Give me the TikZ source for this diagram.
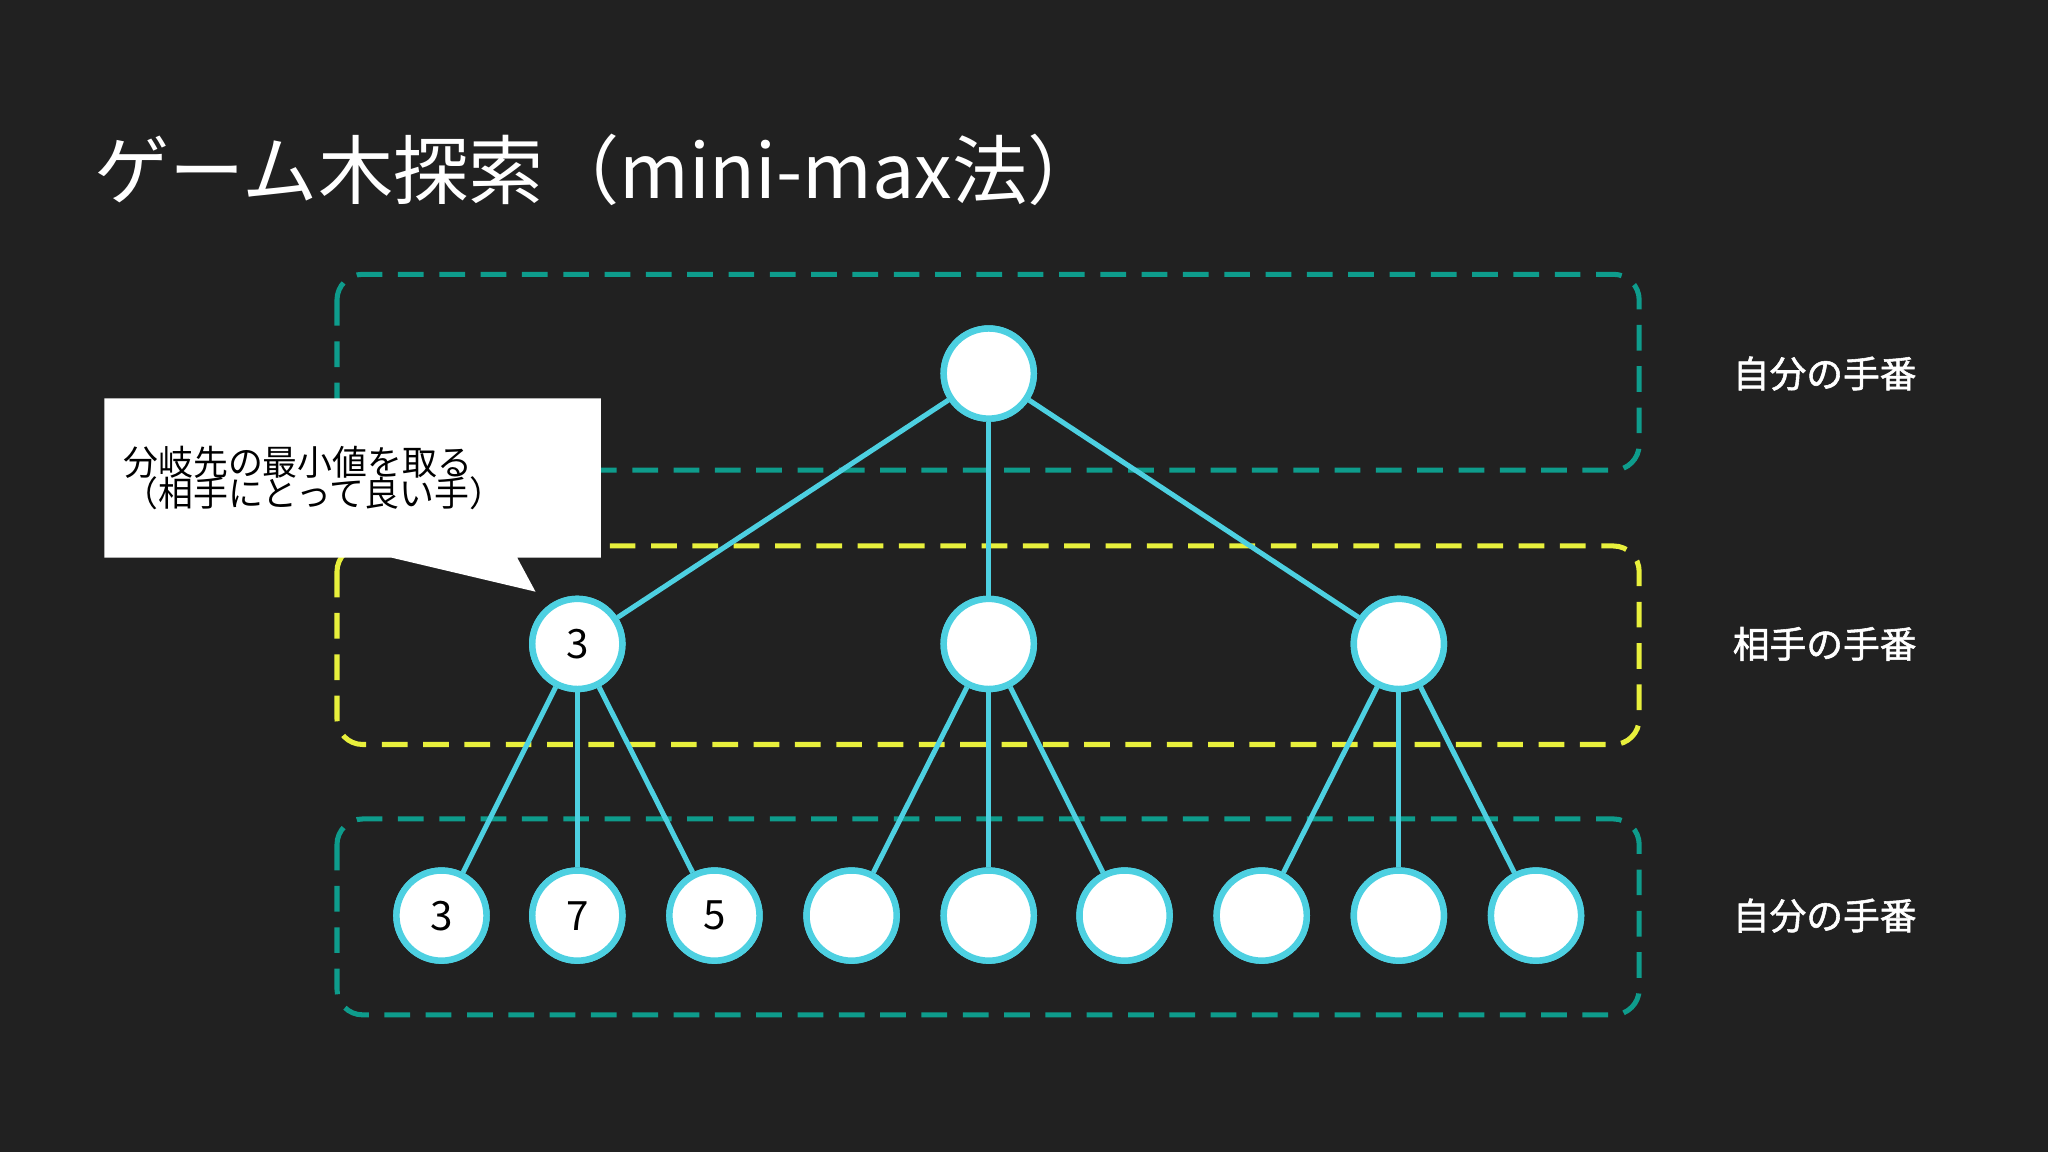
\documentclass[tikz,border=0pt]{standalone}
\usepackage{fontspec}
\setmainfont{Noto Sans CJK JP}
\newfontfamily\jpb{Noto Sans CJK JP}[FakeBold=1.5]
\definecolor{bg}{HTML}{212121}
\definecolor{teal}{HTML}{0E9C8C}
\definecolor{yel}{HTML}{E8F03C}
\definecolor{cy}{HTML}{4DD0E1}
\tikzset{
 lvlbox/.style={draw, line width=5.5pt, dash pattern=on 28pt off 17pt, rounded corners=28pt},
 tn/.style={circle, fill=white, draw=cy, line width=7pt, minimum size=3.45cm, inner sep=0pt, text=black, font=\fontsize{44}{44}\selectfont},
 edge/.style={draw=cy, line width=5.5pt},
 side/.style={text=white, font=\jpb\fontsize{40}{40}\selectfont}
}
\begin{document}
\begin{tikzpicture}[x=0.05cm,y=-0.05cm]
\fill[bg] (0,0) rectangle (1568,882);
\useasboundingbox (0,0) rectangle (1568,882);
\node[anchor=west, text=white, font=\fontsize{82}{82}\selectfont] (title) at (70,130) {ゲーム木探索（mini-max法）};
\draw[lvlbox, teal] (258,210) rectangle (1255,360);
\draw[lvlbox, yel] (258,418) rectangle (1255,570);
\draw[lvlbox, teal] (258,627) rectangle (1255,777);
\node[tn] (r) at (757,286) {};
\node[tn] (m1) at (442,493) {3};
\node[tn] (m2) at (757,493) {};
\node[tn] (m3) at (1071,493) {};
\node[tn] (l1) at (338,701) {3};
\node[tn] (l2) at (442,701) {7};
\node[tn] (l3) at (547,701) {5};
\node[tn] (l4) at (652,701) {};
\node[tn] (l5) at (757,701) {};
\node[tn] (l6) at (861,701) {};
\node[tn] (l7) at (966,701) {};
\node[tn] (l8) at (1071,701) {};
\node[tn] (l9) at (1176,701) {};
\begin{scope}[on background layer/.style={}]
\end{scope}
\foreach \a/\b in {r/m1,r/m2,r/m3,m1/l1,m1/l2,m1/l3,m2/l4,m2/l5,m2/l6,m3/l7,m3/l8,m3/l9}
  \draw[edge] (\a) -- (\b);
% redraw nodes on top
\foreach \n/\x/\y/\t in {r/757/286/{},m1/442/493/3,m2/757/493/{},m3/1071/493/{},l1/338/701/3,l2/442/701/7,l3/547/701/5,l4/652/701/{},l5/757/701/{},l6/861/701/{},l7/966/701/{},l8/1071/701/{},l9/1176/701/{}}
  \node[tn] at (\x,\y) {\t};
\node[side] (s1) at (1397,286) {自分の手番};
\node[side] (s2) at (1397,493) {相手の手番};
\node[side] (s3) at (1397,701) {自分の手番};
\fill[white] (80,305) -- (460,305) -- (460,427) -- (396,427) -- (410,453) -- (300,427) -- (80,427) -- cycle;
\node[anchor=west, text=black, font=\fontsize{38}{38}\selectfont, align=left] (call) at (92,366) {分岐先の最小値を取る\\[-4pt]（相手にとって良い手）};
\end{tikzpicture}
\end{document}
